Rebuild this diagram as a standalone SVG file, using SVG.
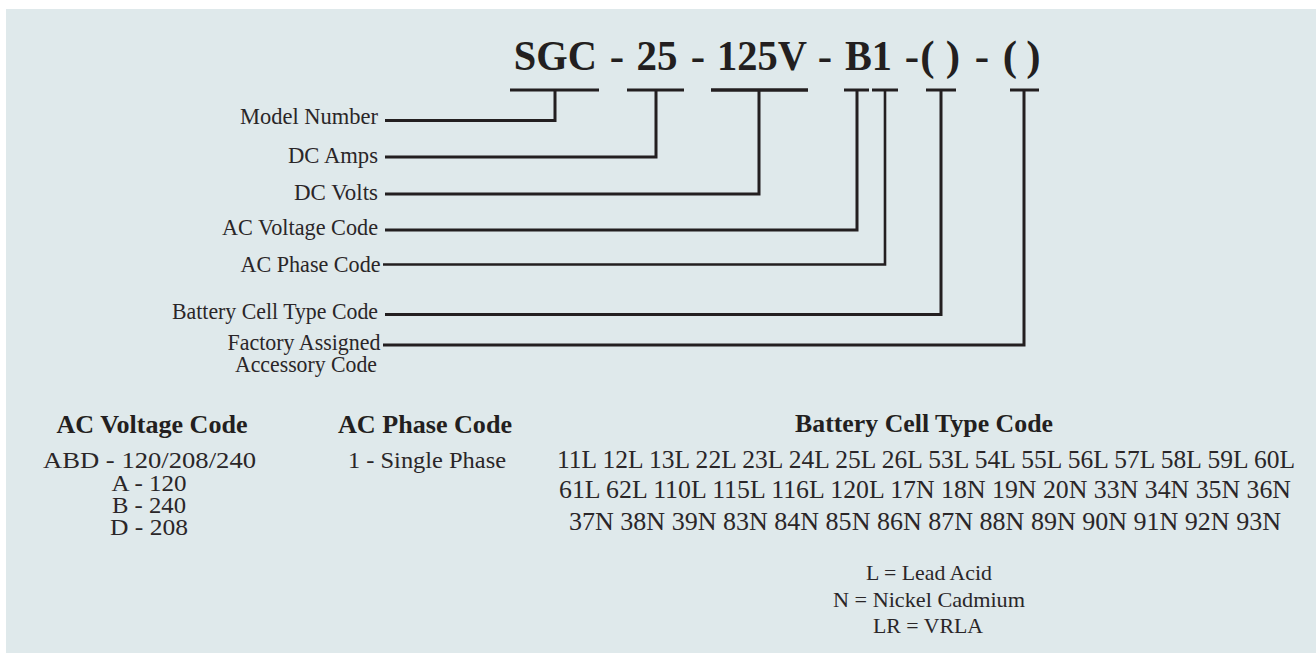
<svg xmlns="http://www.w3.org/2000/svg" width="1316" height="653" viewBox="0 0 1316 653">
<style>
text{font-family:"Liberation Serif","Times New Roman",serif;fill:#2a2628}
.title{font-size:43px;font-weight:bold;fill:#231f20;text-anchor:middle}
.lbl{font-size:22.5px;text-anchor:end}
.hd{font-size:24.5px;font-weight:bold;text-anchor:middle;fill:#231f20}
.body{font-size:24px;text-anchor:middle}
.row{font-size:24.5px;text-anchor:middle}
.leg{font-size:21.5px;text-anchor:middle}
.con{fill:none;stroke:#231f20;stroke-width:3;stroke-linejoin:miter;stroke-linecap:butt}
</style>
<rect x="0" y="0" width="1316" height="653" fill="#ffffff"/>
<rect x="6" y="9" width="1310" height="644" fill="#dfe9eb"/>
<g id="model-code">
<text class="title" x="555.3" y="70" textLength="83" lengthAdjust="spacingAndGlyphs">SGC</text>
<text class="title" x="617" y="70">-</text>
<text class="title" x="657" y="70" textLength="41" lengthAdjust="spacingAndGlyphs">25</text>
<text class="title" x="698" y="70">-</text>
<text class="title" x="762" y="70" textLength="90" lengthAdjust="spacingAndGlyphs">125V</text>
<text class="title" x="825" y="70">-</text>
<text class="title" x="868.5" y="70" textLength="47" lengthAdjust="spacingAndGlyphs">B1</text>
<text class="title" x="912" y="70">-</text>
<text class="title" x="927.5" y="70">(</text>
<text class="title" x="953" y="70">)</text>
<text class="title" x="982" y="70">-</text>
<text class="title" x="1010" y="70">(</text>
<text class="title" x="1033.5" y="70">)</text>
</g>
<g id="connectors">
<line class="con" x1="510" y1="90" x2="599" y2="90"/>
<line class="con" x1="627" y1="90" x2="684" y2="90"/>
<line class="con" x1="711" y1="90" x2="808" y2="90" style="stroke-width:3.5"/>
<line class="con" x1="844" y1="90" x2="869" y2="90"/>
<line class="con" x1="872" y1="90" x2="898" y2="90"/>
<line class="con" x1="926" y1="90" x2="956" y2="90"/>
<line class="con" x1="1010" y1="90" x2="1039" y2="90"/>
<path class="con" d="M385 120.5 H555 V90"/>
<path class="con" d="M385 157 H656 V90"/>
<path class="con" d="M385 194 H759 V90"/>
<path class="con" d="M385 230 H857 V90"/>
<path class="con" d="M383 264.5 H885 V90" style="stroke-width:2.6"/>
<path class="con" d="M385 314.5 H941 V90"/>
<path class="con" d="M383 345 H1024 V90"/>
</g>
<g id="label-model"><text class="lbl" x="378" y="124" textLength="138" lengthAdjust="spacingAndGlyphs">Model Number</text></g>
<g id="label-dc-amps"><text class="lbl" x="378" y="163" textLength="90" lengthAdjust="spacingAndGlyphs">DC Amps</text></g>
<g id="label-dc-volts"><text class="lbl" x="378" y="200" textLength="84" lengthAdjust="spacingAndGlyphs">DC Volts</text></g>
<g id="label-ac-voltage"><text class="lbl" x="378" y="235" textLength="156" lengthAdjust="spacingAndGlyphs">AC Voltage Code</text></g>
<g id="label-ac-phase"><text class="lbl" x="380.5" y="271.5" textLength="140" lengthAdjust="spacingAndGlyphs">AC Phase Code</text></g>
<g id="label-battery"><text class="lbl" x="378" y="319" textLength="206" lengthAdjust="spacingAndGlyphs">Battery Cell Type Code</text></g>
<g id="label-factory">
<text class="lbl" x="380.5" y="350" textLength="153" lengthAdjust="spacingAndGlyphs">Factory Assigned</text>
<text class="lbl" x="377" y="371.5" textLength="142" lengthAdjust="spacingAndGlyphs">Accessory Code</text>
</g>
<g id="ac-voltage-table">
<text class="hd" x="152" y="433" textLength="191" lengthAdjust="spacingAndGlyphs">AC Voltage Code</text>
<text class="body" x="149.5" y="468" textLength="213" lengthAdjust="spacingAndGlyphs">ABD - 120/208/240</text>
<text class="body" x="149" y="491" textLength="75" lengthAdjust="spacingAndGlyphs">A - 120</text>
<text class="body" x="149" y="513" textLength="74" lengthAdjust="spacingAndGlyphs">B - 240</text>
<text class="body" x="149" y="535" textLength="78" lengthAdjust="spacingAndGlyphs">D - 208</text>
</g>
<g id="ac-phase-table">
<text class="hd" x="425" y="433" textLength="174" lengthAdjust="spacingAndGlyphs">AC Phase Code</text>
<text class="body" x="427" y="468" textLength="158" lengthAdjust="spacingAndGlyphs">1 - Single Phase</text>
</g>
<g id="battery-table">
<text class="hd" x="924" y="432" textLength="258" lengthAdjust="spacingAndGlyphs">Battery Cell Type Code</text>
<text class="row" x="926" y="468" textLength="738" lengthAdjust="spacingAndGlyphs">11L 12L 13L 22L 23L 24L 25L 26L 53L 54L 55L 56L 57L 58L 59L 60L</text>
<text class="row" x="925" y="498" textLength="732" lengthAdjust="spacingAndGlyphs">61L 62L 110L 115L 116L 120L 17N 18N 19N 20N 33N 34N 35N 36N</text>
<text class="row" x="925" y="530" textLength="712" lengthAdjust="spacingAndGlyphs">37N 38N 39N 83N 84N 85N 86N 87N 88N 89N 90N 91N 92N 93N</text>
<text class="leg" x="929" y="580" textLength="126" lengthAdjust="spacingAndGlyphs">L = Lead Acid</text>
<text class="leg" x="929" y="607" textLength="192" lengthAdjust="spacingAndGlyphs">N = Nickel Cadmium</text>
<text class="leg" x="928" y="633" textLength="110" lengthAdjust="spacingAndGlyphs">LR = VRLA</text>
</g>
</svg>
